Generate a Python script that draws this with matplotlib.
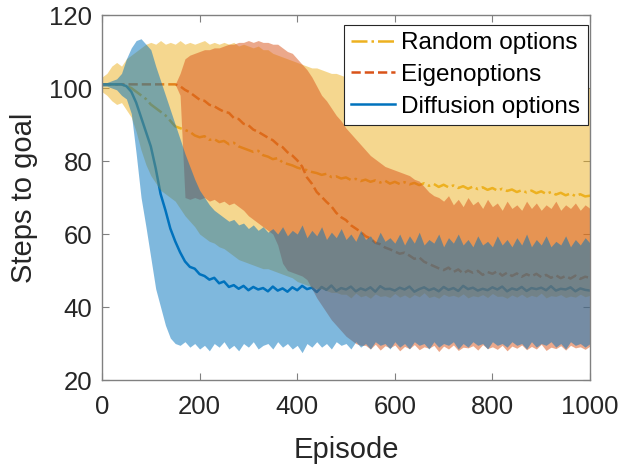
import numpy as np
import matplotlib
matplotlib.use("Agg")
import matplotlib.pyplot as plt

plt.rcParams['font.family'] = ['Liberation Sans', 'DejaVu Sans']

episodes = np.arange(0, 1001, 10)

# ---- Diffusion options (blue) ----
diff_mean = [
    101, 101, 101, 101, 101, 100.5, 99, 96, 92, 88,
    84, 78, 71, 66.5, 61.5, 58, 55, 52.5, 51, 50.5,
    49, 48.5, 47.5, 48, 46.5, 47, 45.5, 46, 45, 45.8,
    44.6, 45.5, 44.8, 45.2, 44.3, 45.6, 44.5, 45.1, 44.2, 45.4,
    44.6, 45.8, 44.9, 45.3, 44.1, 45.5, 44.7, 45.9, 44.4, 45.2,
    44.8, 45.6, 44.3, 45.1, 44.6, 45.4, 44.2, 45.7, 44.9, 45.0,
    44.5, 45.3, 44.8, 45.6, 44.2, 44.9, 45.4, 44.6, 45.1, 44.3,
    45.5, 44.7, 45.2, 44.4, 45.8, 44.9, 45.3, 44.5, 45.0, 44.6,
    45.4, 44.8, 45.6, 44.3, 45.1, 44.7, 45.5, 44.4, 45.2, 44.9,
    45.3, 44.6, 45.7, 44.5, 45.0, 44.8, 45.4, 44.3, 45.1, 44.7,
    44.5]
diff_upper = [
    101.5, 101.5, 102, 102.5, 104, 108, 111, 113, 113.5, 112,
    110.5, 106, 102, 98, 94, 90, 86, 82, 78.5, 75,
    72, 70, 68, 66.5, 65.5, 64.5, 63.5, 64, 62.5, 63,
    61.5, 62.5, 61, 62, 60.5, 61.5, 60, 62, 59.5, 61,
    60, 62.5, 59, 61, 59.5, 62, 58.5, 60.5, 59, 61.5,
    58.5, 60, 58, 61, 58.5, 59.5, 57.5, 60.5, 58, 59,
    57.5, 60, 57, 59.5, 57.5, 60.5, 57, 58.5, 57.5, 60,
    56.5, 59, 57.5, 60, 57, 58.5, 56.5, 59.5, 57, 58,
    56.5, 59.5, 57, 58.5, 56.5, 59, 57, 60, 56.5, 58.5,
    57, 59.5, 56.5, 58, 57, 59.5, 56.5, 58.5, 57, 59,
    57.5]
diff_lower = [
    100.5, 100.5, 100, 99.5, 98, 97, 93, 82, 70, 62,
    53.5, 45, 40, 35, 31.5, 30, 29.5, 30.5, 29, 30,
    28.5, 29.5, 28, 30, 29, 30.5, 28.5, 29.5, 28, 30,
    29, 30.5, 28.5, 29.5, 30, 28.5, 30.5, 29, 30, 28.5,
    29.5, 27.5, 30, 29, 30.5, 29, 30, 28.5, 30.5, 29.5,
    30, 28.5, 30.5, 29, 30, 28.5, 30.5, 29.5, 30, 28.5,
    30.5, 29, 30, 28.5, 30.5, 29.5, 30, 28.5, 30.5, 29,
    30, 29.5, 30.5, 28.5, 30, 29, 30.5, 29.5, 30, 28.5,
    30.5, 29.5, 30, 29, 30.5, 29.5, 30, 28.5, 30.5, 29,
    30, 29.5, 30.5, 29, 30, 28.5, 30.5, 29.5, 30, 29,
    30]

# ---- Random options (yellow) ----
rand_mean = [
    101, 101, 101, 101, 101, 100.5, 100, 99, 98, 97,
    95.5, 94.5, 93.5, 92.5, 91, 89.5, 89, 88.5, 88, 87,
    86.5, 86.8, 85.8, 86, 85.2, 85.5, 84.6, 85, 84, 83.5,
    83, 82.5, 82.8, 81.6, 81.2, 80.5, 80.8, 79.6, 79.2, 78.8,
    78.2, 77.8, 77.5, 77, 76.7, 76.2, 76.5, 75.6, 75.8, 75.2,
    75.5, 74.8, 75.1, 74.5, 74.9, 74.3, 74.7, 74.1, 74.6, 73.8,
    74.3, 73.7, 74.2, 73.6, 74.0, 73.4, 73.9, 73.2, 73.7, 72.9,
    73.5, 72.8, 73.3, 72.6, 73.1, 72.4, 73.0, 72.3, 72.8, 72.1,
    72.6, 71.9, 72.4, 71.8, 72.2, 71.5, 72.0, 71.4, 71.9, 71.2,
    71.7, 71.0, 71.5, 70.8, 71.3, 70.6, 71.1, 70.4, 70.9, 70.3,
    70.5]
rand_upper = [
    103, 104, 106, 107, 106, 108, 109, 110, 111, 112,
    112.5, 112, 113, 112, 112.5, 112, 113, 112, 112.5, 112,
    112.5, 113, 112, 112.5, 112, 112.5, 112, 112.5, 111.5, 112,
    111.5, 111, 111.5, 110.5, 110.5, 109.5, 109, 108.5, 108, 107.5,
    107, 106.5, 106, 105.5, 105.5, 105, 104.5, 104, 104, 103.5,
    103, 103, 102.5, 102, 102, 101.5, 101.5, 101, 101, 100.5,
    100.5, 100.3, 100, 100.2, 99.8, 100.1, 100, 100.3, 99.9, 100.1,
    100, 100.2, 99.8, 100, 100.1, 99.9, 100.2, 100, 100.1, 99.8,
    100, 100.2, 99.9, 100, 100.1, 100, 99.9, 100.2, 100, 100.1,
    99.8, 100, 100, 100.1, 99.9, 100.2, 100, 100, 99.9, 100.1,
    100]
rand_lower = [
    99, 98, 96.5, 95.5, 96, 94, 92, 88, 83, 79,
    76, 74, 72, 71, 70, 69, 67, 65, 63.5, 62,
    60, 59, 58, 57.5, 56.5, 56, 55, 54, 53, 52.5,
    52, 51.5, 51, 50.5, 50.5, 50, 49.5, 49, 48.5, 48,
    47, 46.5, 46, 45.5, 45, 45, 44.5, 44, 44, 43.5,
    43.5, 42.5, 43.8, 42.8, 43.2, 42.4, 43.6, 42.9, 43.1, 42.6,
    43.7, 42.7, 43.3, 42.5, 43.4, 42.8, 43.9, 42.6, 43.0, 42.4,
    43.5, 42.9, 43.2, 42.7, 43.6, 42.5, 43.1, 42.8, 43.4, 42.6,
    43.7, 42.9, 43.0, 42.4, 43.3, 42.7, 43.5, 42.6, 43.2, 42.8,
    43.8, 42.5, 43.1, 42.9, 43.4, 42.6, 43.0, 42.7, 43.5, 42.8,
    43.2]

# ---- Eigenoptions (orange) ----
eig_mean = [
    101, 101, 101, 101, 101, 101, 101, 101, 101, 101,
    101, 101, 101, 101, 101, 101, 100.5, 99.5, 98.8, 97.8,
    96.8, 96.5, 95.4, 95, 94.2, 93.5, 93.2, 91.8, 91.5, 90.2,
    89.8, 88.6, 88, 87.2, 86.4, 85.7, 84.5, 83.8, 82.4, 81.5,
    80.2, 78.5, 75.5, 73.8, 71.5, 70.2, 68.8, 67.6, 65.8, 64.6,
    63.8, 62.4, 61.5, 60.6, 59.4, 58.8, 57.6, 57.2, 56.3, 55.8,
    55.2, 54.6, 54.9, 54.1, 53.2, 53.6, 52.4, 51.8, 51.2, 50.6,
    50.1, 50.8, 49.6, 50.3, 49.2, 50.0, 49.4, 49.9, 48.8, 49.6,
    49.1, 49.8, 48.6, 49.4, 48.5, 49.2, 48.3, 49.0, 48.4, 49.1,
    48.2, 48.8, 48.0, 48.7, 47.9, 48.5, 47.8, 48.6, 47.7, 48.3,
    48.0]
eig_upper = [
    101, 101, 101, 101, 101, 101, 101, 101, 101, 101,
    101, 101, 101, 101, 101, 101, 104, 108, 109, 109.5,
    110, 110.5, 110.5, 111, 111, 111.5, 112, 112, 112.5, 112.5,
    113, 112.5, 113, 112.5, 112.5, 112, 112, 111, 110, 109.5,
    108, 106.5, 105, 103, 100.5, 98, 96.5, 94.5, 92.5, 91,
    89, 87.5, 86, 84.5, 83, 81.5, 80.5, 79.5, 78.5, 78,
    77.5, 77, 76.5, 76, 75, 74.5, 73, 71.5, 70.5, 70,
    69, 70.5, 68, 69.5, 67.5, 70, 68, 69, 67, 69.5,
    67.5, 68.5, 66.5, 69, 67, 68, 66.5, 69, 67, 68.5,
    66.5, 68, 67, 69, 66.5, 68, 67, 68.5, 66.5, 68,
    67]
eig_lower = [
    101, 101, 101, 101, 101, 101, 101, 101, 101, 101,
    101, 101, 101, 101, 101, 101, 98, 70, 69.5, 70,
    69.5, 70, 69, 69.5, 68.5, 69, 68, 68.5, 67.5, 66.5,
    65, 64, 63, 62, 61, 60, 57, 52, 50, 49.5,
    49, 48.5, 47.5, 45, 42.5, 40.5, 38.5, 36.5, 35, 33.5,
    32, 31, 30, 29.5, 29.5, 28.5, 29.8, 28.2, 29.4, 28.8,
    29.6, 28.0, 29.2, 28.6, 29.7, 28.3, 29.1, 28.7, 29.5, 27.8,
    29.3, 28.5, 29.6, 28.1, 29.0, 28.8, 29.4, 28.2, 29.7, 28.6,
    29.1, 28.4, 29.5, 28.0, 29.3, 28.7, 29.6, 28.3, 29.2, 28.5,
    29.8, 28.1, 29.0, 28.6, 29.4, 28.2, 29.5, 28.8, 29.1, 28.4,
    29.3]

labels = ["Random options", "Eigenoptions", "Diffusion options"]
x_ticks = [0, 200, 400, 600, 800, 1000]
y_ticks = [20, 40, 60, 80, 100, 120]

c_yellow = (0.929, 0.694, 0.125)
c_orange = (0.850, 0.325, 0.098)
c_blue = (0.000, 0.447, 0.741)

fig = plt.figure(figsize=(6.22, 4.66), dpi=100)
ax = fig.add_axes([0.164, 0.1845, 0.7846, 0.7833])

lw = 1.8
ax.plot(episodes, rand_mean, color=c_yellow, linestyle='-.', linewidth=lw, label=labels[0], zorder=2)
ax.plot(episodes, eig_mean, color=c_orange, linestyle='--', linewidth=lw, label=labels[1], zorder=2)
ax.plot(episodes, diff_mean, color=c_blue, linestyle='-', linewidth=lw, label=labels[2], zorder=2)

ax.fill_between(episodes, rand_lower, rand_upper, color=c_yellow, alpha=0.5, linewidth=0, zorder=3)
ax.fill_between(episodes, eig_lower, eig_upper, color=c_orange, alpha=0.5, linewidth=0, zorder=4)
ax.fill_between(episodes, diff_lower, diff_upper, color=c_blue, alpha=0.5, linewidth=0, zorder=5)

ax.set_xlim(0, 1000)
ax.set_ylim(20, 120)
ax.set_xticks(x_ticks)
ax.set_yticks(y_ticks)

spine_col = '#808080'
for s in ax.spines.values():
    s.set_color(spine_col)
    s.set_linewidth(1.0)
    s.set_zorder(10)
ax.tick_params(direction='in', length=5, width=0.8, color=spine_col,
               top=True, right=True, labelsize=18.5, labelcolor='#262626')
ax.tick_params(axis='y', pad=7)
ax.tick_params(axis='x', pad=11)

ax.set_xlabel("Episode", fontsize=21, color='#262626', labelpad=12)
ax.set_ylabel("Steps to goal", fontsize=21, color='#262626', labelpad=8)

leg = ax.legend(loc='upper right', bbox_to_anchor=(0.995, 0.973), borderaxespad=0,
                fontsize=17.5, frameon=True, fancybox=False, framealpha=1,
                edgecolor='#262626', handlelength=1.8, handletextpad=0.25,
                labelspacing=0.4, borderpad=0.3)
leg.get_frame().set_linewidth(0.8)
leg.set_zorder(20)
for t in leg.get_texts():
    t.set_color('#000000')

fig.savefig("out.png", dpi=100)
